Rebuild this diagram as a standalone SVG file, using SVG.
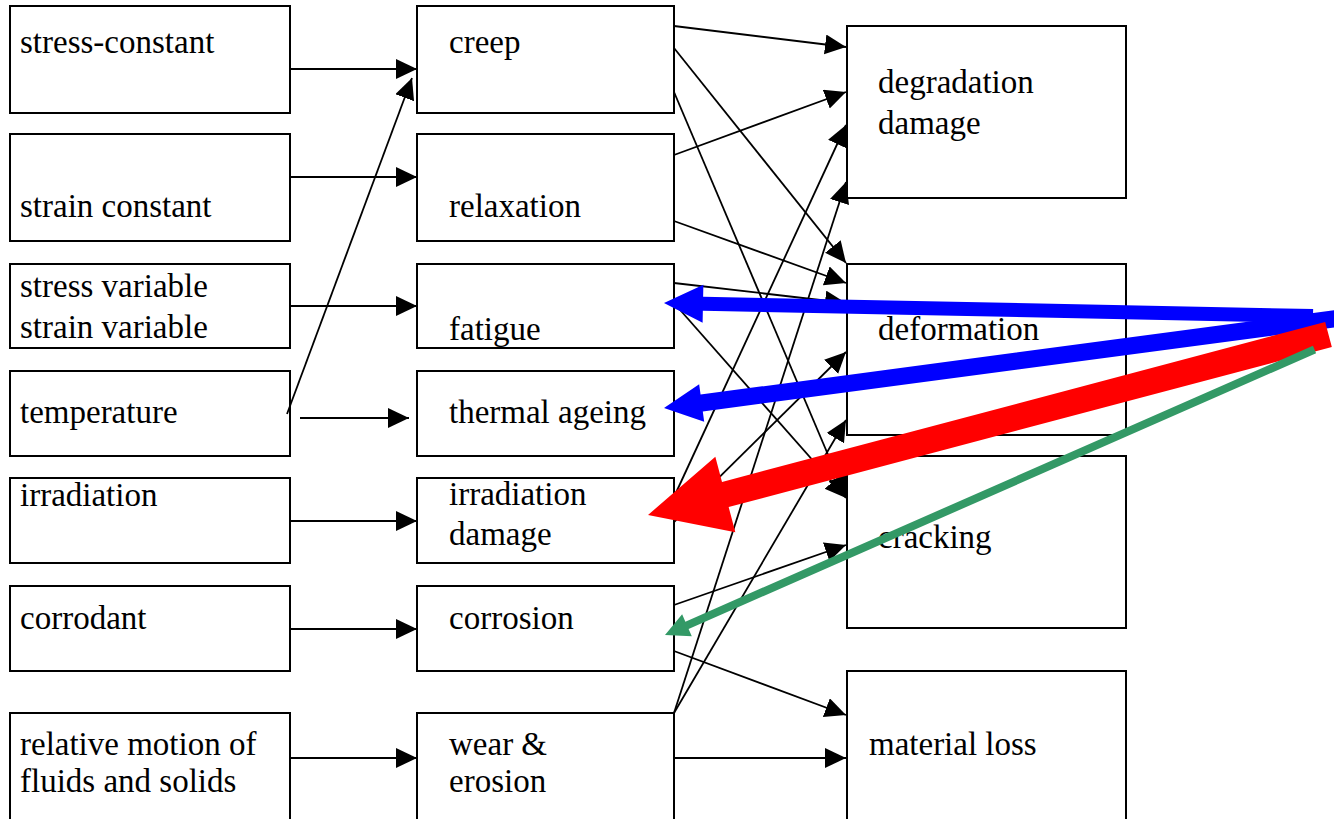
<svg xmlns="http://www.w3.org/2000/svg" width="1334" height="819" viewBox="0 0 1334 819">
<defs>
<style>
.box{fill:#fff;stroke:#000;stroke-width:2}
.c{stroke:#000;stroke-width:1.8;fill:none;marker-end:url(#ah)}
</style>
<marker id="ah" markerUnits="userSpaceOnUse" markerWidth="22" markerHeight="22" refX="21" refY="10" orient="auto">
<path d="M0,0 L21,10 L0,20 Z" fill="#000"/>
</marker>
</defs>
<rect width="1334" height="819" fill="#fff"/>

<g font-family="Liberation Serif, DejaVu Serif, serif" font-size="33" fill="#000">
<g id="n-stress-constant"><rect class="box" x="10" y="6" width="280" height="107"/><text x="20" y="53">stress-constant</text></g>
<g id="n-strain-constant"><rect class="box" x="10" y="134" width="280" height="107"/><text x="20" y="217">strain constant</text></g>
<g id="n-stress-variable"><rect class="box" x="10" y="264" width="280" height="84"/><text x="20" y="297">stress variable</text><text x="20" y="338">strain variable</text></g>
<g id="n-temperature"><rect class="box" x="10" y="371" width="280" height="85"/><text x="20" y="423">temperature</text></g>
<g id="n-irradiation"><rect class="box" x="10" y="478" width="280" height="85"/><text x="20" y="506">irradiation</text></g>
<g id="n-corrodant"><rect class="box" x="10" y="586" width="280" height="85"/><text x="20" y="629">corrodant</text></g>
<g id="n-relative-motion"><rect class="box" x="10" y="713" width="280" height="120"/><text x="20" y="755">relative motion of</text><text x="20" y="792">fluids and solids</text></g>

<g id="n-creep"><rect class="box" x="417" y="6" width="257" height="107"/><text x="449" y="53">creep</text></g>
<g id="n-relaxation"><rect class="box" x="417" y="134" width="257" height="107"/><text x="449" y="217">relaxation</text></g>
<g id="n-fatigue"><rect class="box" x="417" y="264" width="257" height="84"/><text x="449" y="340">fatigue</text></g>
<g id="n-thermal-ageing"><rect class="box" x="417" y="371" width="257" height="85"/><text x="449" y="423">thermal ageing</text></g>
<g id="n-irradiation-damage"><rect class="box" x="417" y="478" width="257" height="85"/><text x="449" y="505">irradiation</text><text x="449" y="545">damage</text></g>
<g id="n-corrosion"><rect class="box" x="417" y="586" width="257" height="85"/><text x="449" y="629">corrosion</text></g>
<g id="n-wear-erosion"><rect class="box" x="417" y="713" width="257" height="120"/><text x="449" y="755">wear &amp;</text><text x="449" y="792">erosion</text></g>

<g id="n-degradation-damage"><rect class="box" x="847" y="26" width="279" height="172"/><text x="878" y="93">degradation</text><text x="878" y="134">damage</text></g>
<g id="n-deformation"><rect class="box" x="847" y="264" width="279" height="171"/><text x="878" y="340">deformation</text></g>
<g id="n-cracking"><rect class="box" x="847" y="456" width="279" height="172"/><text x="878" y="548">cracking</text></g>
<g id="n-material-loss"><rect class="box" x="847" y="671" width="279" height="160"/><text x="869" y="755">material loss</text></g>
</g>

<g id="connectors">
<line class="c" x1="290" y1="69" x2="417" y2="69"/>
<line class="c" x1="290" y1="177" x2="417" y2="177"/>
<line class="c" x1="290" y1="306" x2="417" y2="306"/>
<line class="c" x1="300" y1="418" x2="409" y2="418"/>
<line class="c" x1="287" y1="414" x2="412" y2="78"/>
<line class="c" x1="290" y1="521" x2="417" y2="521"/>
<line class="c" x1="290" y1="629" x2="417" y2="629"/>
<line class="c" x1="290" y1="758" x2="417" y2="758"/>

<line class="c" x1="674" y1="26" x2="846" y2="47"/>
<line class="c" x1="674" y1="48" x2="846" y2="263"/>
<line class="c" x1="674" y1="92" x2="846" y2="497"/>
<line class="c" x1="674" y1="155" x2="846" y2="92"/>
<line class="c" x1="674" y1="221" x2="846" y2="283"/>
<line class="c" x1="674" y1="283" x2="846" y2="303"/>
<line class="c" x1="674" y1="303" x2="846" y2="498"/>
<line class="c" x1="674" y1="497" x2="846" y2="125"/>
<line class="c" x1="674" y1="522" x2="846" y2="352"/>
<line class="c" x1="674" y1="605" x2="846" y2="545"/>
<line class="c" x1="674" y1="651" x2="846" y2="715"/>
<line class="c" x1="674" y1="713" x2="846" y2="182"/>
<line class="c" x1="674" y1="713" x2="846" y2="420"/>
<line class="c" x1="674" y1="758" x2="846" y2="758"/>

<polygon fill="#0000ff" points="1313.14,309 703.13,296.78 703.37,284.78 664,303 702.61,322.78 702.85,310.78 1312.86,323"/>
<polygon fill="#0000ff" points="1341.12,326.43 702.79,411.42 704.18,421.82 664,408 699.16,384.16 700.55,394.56 1338.88,309.57"/>
<polygon fill="#ff0000" points="1331.83,347.07 728.66,507.06 735.33,532.19 648,515 715.33,456.79 722,481.92 1325.17,321.93"/>
<polygon fill="#339966" points="1316.11,353.16 688.58,629 691.8,636.33 665,635 682.14,614.35 685.36,621.68 1312.89,345.84"/>
</g>
</svg>
